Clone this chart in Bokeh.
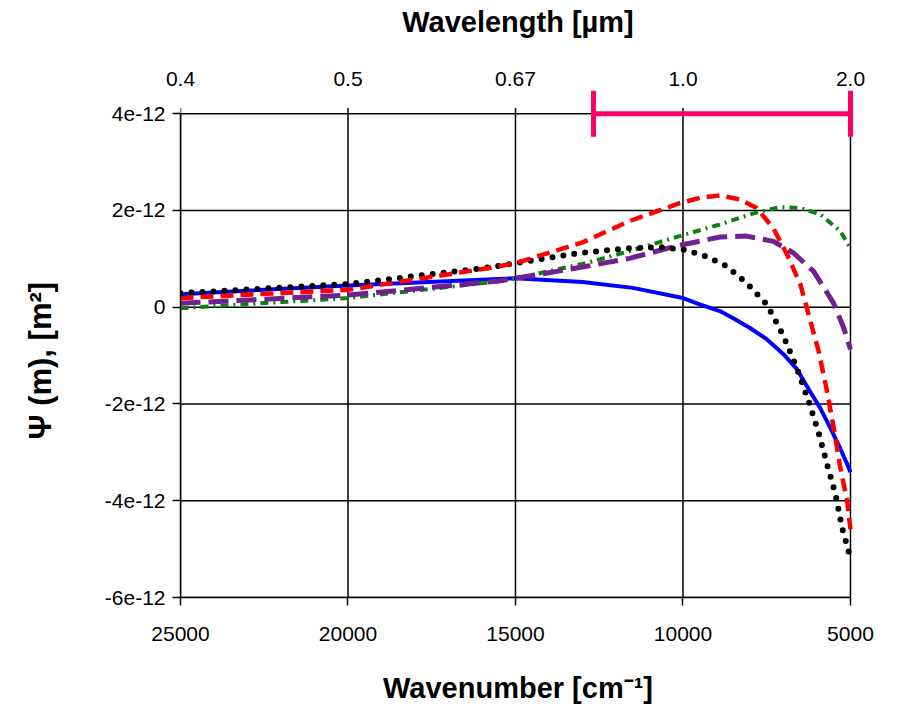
import math
from bokeh.plotting import figure
from bokeh.models import Range1d, LinearAxis, FixedTicker
from bokeh.embed import file_html
from bokeh.resources import INLINE

# ---- data (psi in units of 1e-12 m^2) ----
wn_blue = [25000, 20000, 15000, 13000, 11500, 10000, 9500, 8900, 8500, 8000, 7500, 7000, 6600,
           6200, 5900, 5700, 5500, 5300, 5100, 5000]
psi_blue = [0.27, 0.45, 0.60, 0.52, 0.40, 0.19, 0.06, -0.08, -0.23, -0.43, -0.66, -0.97, -1.28,
            -1.75, -2.09, -2.36, -2.64, -2.93, -3.24, -3.41]

wn_black = [25000, 20000, 15700, 13100, 11600, 10600, 9900, 9300, 8700, 8100, 7500, 7150, 7000,
            6600, 6250, 5950, 5700, 5450, 5250, 5000]
psi_black = [0.29, 0.48, 0.83, 1.12, 1.22, 1.24, 1.18, 1.05, 0.85, 0.50, 0.06, -0.39, -0.60,
             -1.26, -1.94, -2.60, -3.24, -3.86, -4.56, -5.19]

wn_red = [25000, 20000, 15800, 15000, 13000, 11600, 10100, 9500, 8900, 8300, 7800, 7300, 6900,
          6500, 6300, 5950, 5700, 5500, 5300, 5100, 5000]
psi_red = [0.19, 0.36, 0.81, 0.91, 1.34, 1.78, 2.15, 2.26, 2.31, 2.23, 2.05, 1.63, 1.10,
           0.48, -0.02, -0.91, -1.74, -2.50, -3.33, -4.00, -4.59]

wn_green = [25000, 20000, 15950, 14950, 12900, 11600, 10100, 8900, 7900, 7100, 6500, 5900, 5300, 5000]
psi_green = [-0.02, 0.19, 0.50, 0.60, 0.91, 1.16, 1.47, 1.71, 1.94, 2.07, 2.05, 1.92, 1.57, 1.22]

wn_purple = [25000, 20000, 15500, 13000, 11600, 10100, 8900, 8100, 7300, 6700, 6100, 5500, 5200, 5000]
psi_purple = [0.08, 0.25, 0.54, 0.83, 1.01, 1.28, 1.45, 1.47, 1.36, 1.12, 0.74, 0.08, -0.43, -0.87]

band_wn = [12670, 5000]
band_psi = [4.0, 4.0]

wn_ticks = [25000, 20000, 15000, 10000, 5000]
wn_labels = ["25000", "20000", "15000", "10000", "5000"]
wl_labels = ["0.4", "0.5", "0.67", "1.0", "2.0"]
psi_ticks = [-6, -4, -2, 0, 2, 4]
psi_labels = ["-6e-12", "-4e-12", "-2e-12", "0", "2e-12", "4e-12"]

FONT = "Liberation Sans"
X_MIN, X_MAX = min(wn_ticks), max(wn_ticks)
Y_MIN, Y_MAX = min(psi_ticks), max(psi_ticks)
TICK_UP = 0.12  # small tick marks above the top gridline (data units)
NBSP = "\u00a0"

p = figure(width=898, height=712, output_backend="svg", toolbar_location=None,
           x_range=Range1d(25000, 4850), y_range=Range1d(-6, 4.5),
           min_border_left=180, min_border_right=43, min_border_top=89, min_border_bottom=115,
           background_fill_color="white", border_fill_color="white")
p.outline_line_color = None
p.xgrid.visible = False
p.ygrid.visible = False

def style_axis(ax, tick_out):
    ax.axis_line_width = 1.5
    ax.axis_line_color = "black"
    ax.major_tick_line_width = 1.5
    ax.major_tick_line_color = "black"
    ax.minor_tick_line_color = None
    ax.major_tick_in = 0
    ax.major_tick_out = tick_out
    ax.major_label_text_font = FONT
    ax.major_label_text_font_size = "21px"
    ax.major_label_text_color = "black"
    ax.axis_label_text_font = FONT
    ax.axis_label_text_font_style = "bold"
    ax.axis_label_text_font_size = "29px"
    ax.axis_label_text_color = "black"

xa = p.xaxis[0]
style_axis(xa, 8)
xa.ticker = FixedTicker(ticks=wn_ticks)
xa.bounds = (X_MIN, X_MAX)
xa.major_label_overrides = dict(zip(wn_ticks, wn_labels))
xa.axis_label = "Wavenumber [cm\u207b\u00b9]"
xa.major_label_standoff = 21
xa.axis_label_standoff = 28

ya = p.yaxis[0]
style_axis(ya, 8)
ya.ticker = FixedTicker(ticks=psi_ticks)
ya.bounds = (Y_MIN, Y_MAX)
ya.major_label_overrides = dict(zip(psi_ticks, psi_labels))
ya.major_label_standoff = 7
# trailing no-break spaces push the centred title down onto the -6..4 span
ya.axis_label = "\u03a8 (m), [m\u00b2]" + NBSP * 4
ya.axis_label_text_font_size = "31px"
ya.axis_label_standoff = 44

top = LinearAxis(ticker=FixedTicker(ticks=wn_ticks),
                 major_label_overrides=dict(zip(wn_ticks, wl_labels)),
                 axis_label="Wavelength [\u00b5m]", bounds=(X_MIN, X_MAX))
style_axis(top, 0)
top.axis_line_color = None
top.major_tick_line_color = None
top.major_label_standoff = 4
top.axis_label_standoff = 31
p.add_layout(top, "above")

# grid lines (vertical ones poke slightly above the top line as tick marks)
p.segment(x0=wn_ticks, y0=[Y_MIN] * len(wn_ticks), x1=wn_ticks, y1=[Y_MAX + TICK_UP] * len(wn_ticks),
          line_color="black", line_width=1.5)
p.segment(x0=[X_MIN] * len(psi_ticks), y0=psi_ticks, x1=[X_MAX] * len(psi_ticks), y1=psi_ticks,
          line_color="black", line_width=1.5)

p.line(wn_blue, psi_blue, line_color="#0000FF", line_width=4)
p.line(wn_green, psi_green, line_color="#0F800F", line_width=4, line_dash="8 5 2 5")
p.line(wn_purple, psi_purple, line_color="#70208F", line_width=5, line_dash="20 8")
p.line(wn_black, psi_black, line_color="black", line_width=6, line_dash="0 11", line_cap="round")
p.line(wn_red, psi_red, line_color="#FF0000", line_width=4.5, line_dash="13 7")

pink = "#FF0066"
p.line(band_wn, band_psi, line_color=pink, line_width=5)
p.scatter(band_wn, band_psi, marker="dash", size=46, angle=math.pi / 2,
          line_color=pink, line_width=5)

open("out.html", "w").write(file_html(p, INLINE))
